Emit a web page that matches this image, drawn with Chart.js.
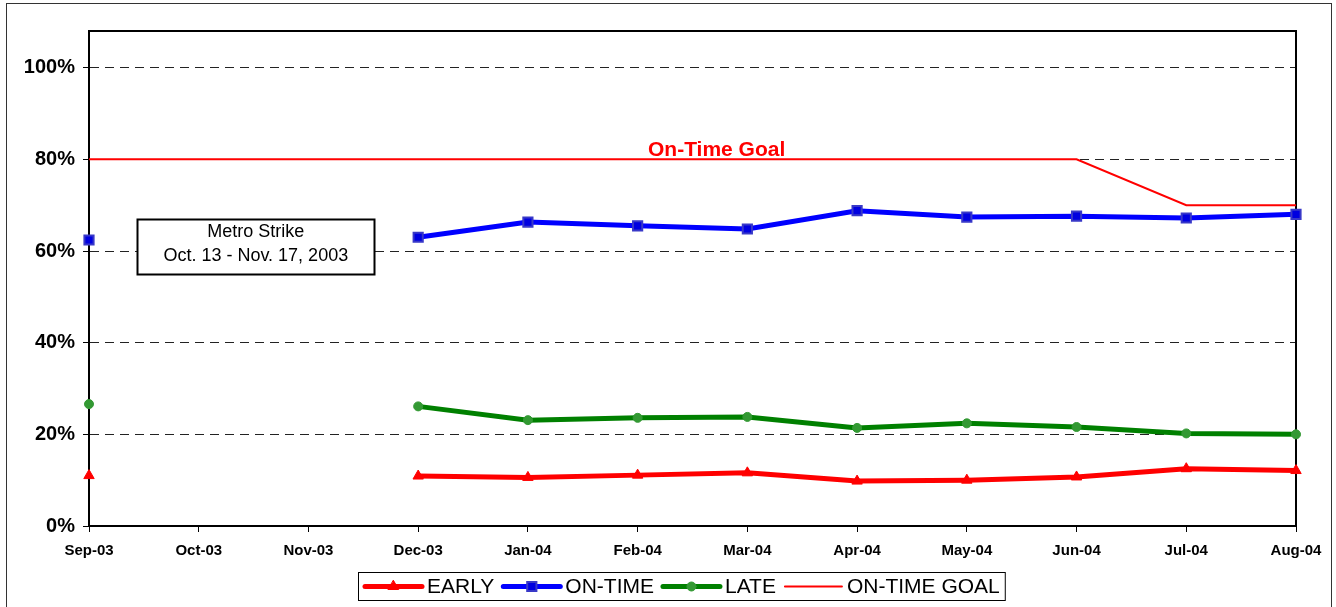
<!DOCTYPE html>
<html>
<head>
<meta charset="utf-8">
<script src="https://cdn.jsdelivr.net/npm/chart.js@4.4.0/dist/chart.umd.min.js"></script>
<style>
  html, body { margin: 0; padding: 0; background: #fff; }
  canvas { display: block; }
</style>
</head>
<body>
<canvas id="perf" width="1336" height="607"></canvas>
<script>
// monthly on-time performance (fractions), Oct/Nov 03 missing (strike)
const months = ['Sep-03', 'Oct-03', 'Nov-03', 'Dec-03', 'Jan-04', 'Feb-04', 'Mar-04',
                'Apr-04', 'May-04', 'Jun-04', 'Jul-04', 'Aug-04'];
const early   = [0.110, null, null, 0.109, 0.106, 0.111, 0.116, 0.098, 0.100, 0.107, 0.125, 0.121];
const onTime  = [0.624, null, null, 0.630, 0.663, 0.655, 0.648, 0.688, 0.674, 0.676, 0.672, 0.680];
const late    = [0.266, null, null, 0.261, 0.231, 0.236, 0.238, 0.214, 0.224, 0.216, 0.202, 0.200];
const onTimeGoal = [0.80, 0.80, 0.80, 0.80, 0.80, 0.80, 0.80, 0.80, 0.80, 0.80, 0.70, 0.70];
const yTicks = [0, 0.2, 0.4, 0.6, 0.8, 1.0];

const FONT = '"Liberation Sans", Arial, sans-serif';

// outer frame + plot area box (top/right edges)
const framePlugin = {
    id: 'frame',
    beforeDraw(chart) {
        const ctx = chart.ctx;
        ctx.save();
        ctx.fillStyle = '#fff';
        ctx.fillRect(0, 0, chart.width, chart.height);
        ctx.strokeStyle = '#333';
        ctx.lineWidth = 1;
        ctx.strokeRect(6.5, 3.5, 1325, 640);
        ctx.restore();
    },
    beforeDatasetsDraw(chart) {
        const { ctx, chartArea: a } = chart;
        ctx.save();
        ctx.strokeStyle = '#000';
        ctx.lineWidth = 2;
        ctx.beginPath();
        ctx.moveTo(a.left, a.top);
        ctx.lineTo(a.right, a.top);
        ctx.lineTo(a.right, a.bottom);
        ctx.stroke();
        ctx.restore();
    }
};

// strike note box and goal caption
const notesPlugin = {
    id: 'notes',
    afterDatasetsDraw(chart) {
        const { ctx, scales: { x, y } } = chart;
        ctx.save();
        // "On-Time Goal" caption sits just above the 80% goal line
        ctx.font = 'bold 21px ' + FONT;
        ctx.fillStyle = '#ff0000';
        ctx.textAlign = 'center';
        ctx.textBaseline = 'alphabetic';
        ctx.fillText('On-Time Goal', x.getPixelForValue(5.72), y.getPixelForValue(0.8) - 3);

        // Metro strike box
        const cx = x.getPixelForValue(1.52), cy = y.getPixelForValue(0.61);
        const w = 237, h = 55;
        ctx.fillStyle = '#fff';
        ctx.fillRect(cx - w / 2, cy - h / 2, w, h);
        ctx.strokeStyle = '#000';
        ctx.lineWidth = 2;
        ctx.strokeRect(Math.round(cx - w / 2) + 0.5, Math.round(cy - h / 2) + 0.5, w, h);
        ctx.fillStyle = '#000';
        ctx.font = '18px ' + FONT;
        ctx.textBaseline = 'middle';
        ctx.fillText('Metro Strike', cx, cy - 14);
        ctx.fillText('Oct. 13 - Nov. 17, 2003', cx, cy + 10);
        ctx.restore();
    }
};

// legend with line+marker samples, boxed under the axis
const legendPlugin = {
    id: 'lineLegend',
    afterDraw(chart) {
        const ctx = chart.ctx;
        const ds = chart.data.datasets;
        const top = 572, h = 28, left = 358;
        ctx.save();
        ctx.font = '21px ' + FONT;
        ctx.textBaseline = 'middle';
        ctx.textAlign = 'left';
        let xPos = left + 7;
        const cy = top + h / 2 + 0.5;
        const items = [];
        ds.forEach(d => {
            items.push({ d, x: xPos });
            xPos += 57 + 5 + ctx.measureText(d.label).width + 9;
        });
        const right = xPos - 4;
        ctx.strokeStyle = '#000';
        ctx.lineWidth = 1;
        ctx.strokeRect(left + 0.5, top + 0.5, right - left, h);
        items.forEach(({ d, x }) => {
            ctx.strokeStyle = d.borderColor;
            ctx.lineWidth = d.borderWidth;
            ctx.lineCap = 'round';
            ctx.beginPath();
            ctx.moveTo(x, cy);
            ctx.lineTo(x + 57, cy);
            ctx.stroke();
            if (d.pointRadius > 0) {
                ctx.fillStyle = d.pointBackgroundColor;
                ctx.strokeStyle = d.pointBorderColor;
                ctx.lineWidth = d.pointBorderWidth;
                Chart.helpers.drawPoint(ctx, {
                    pointStyle: d.pointStyle, radius: d.pointRadius,
                    borderWidth: d.pointBorderWidth, rotation: 0
                }, x + 28.5, cy);
            }
            ctx.fillStyle = '#000';
            ctx.fillText(d.label, x + 62, cy + 1);
        });
        ctx.restore();
    }
};

new Chart(document.getElementById('perf'), {
    type: 'line',
    data: {
        labels: months,
        datasets: [
            {
                label: 'EARLY', data: early,
                borderColor: '#ff0000', borderWidth: 5,
                pointStyle: 'triangle', pointRadius: 6,
                pointBackgroundColor: '#ff0000', pointBorderColor: '#ff0000', pointBorderWidth: 1,
                clip: false
            },
            {
                label: 'ON-TIME', data: onTime,
                borderColor: '#0000ff', borderWidth: 5,
                pointStyle: 'rect', pointRadius: 6.5,
                pointBackgroundColor: '#0000e0', pointBorderColor: '#3838c8', pointBorderWidth: 2,
                clip: false
            },
            {
                label: 'LATE', data: late,
                borderColor: '#008000', borderWidth: 5,
                pointStyle: 'circle', pointRadius: 4.5,
                pointBackgroundColor: '#339933', pointBorderColor: '#339933', pointBorderWidth: 1,
                clip: false
            },
            {
                label: 'ON-TIME GOAL', data: onTimeGoal,
                borderColor: '#ff0000', borderWidth: 2,
                pointRadius: 0, pointBackgroundColor: '#ff0000', pointBorderColor: '#ff0000',
                pointBorderWidth: 0
            }
        ]
    },
    options: {
        responsive: false,
        animation: false,
        spanGaps: false,
        layout: { padding: { left: 0, top: 31, right: 40, bottom: 0 } },
        elements: { line: { tension: 0 } },
        plugins: { legend: { display: false }, tooltip: { enabled: false } },
        scales: {
            x: {
                offset: false,
                grid: { drawOnChartArea: false, color: '#000', tickLength: 6, tickWidth: 1 },
                border: { display: true, color: '#000', width: 2 },
                ticks: {
                    color: '#000', padding: 10, maxRotation: 0, autoSkip: false,
                    font: { family: FONT, size: 15, weight: 'bold' }
                },
                afterFit(scale) { scale.height = 81; }
            },
            y: {
                min: 0, max: 1.08,
                afterBuildTicks(scale) {
                    scale.ticks = yTicks.map(v => ({ value: v }));
                },
                grid: { color: '#222', lineWidth: 1, tickLength: 6, tickColor: '#000' },
                border: { display: true, color: '#000', width: 2, dash: [9, 6] },
                ticks: {
                    color: '#000', padding: 8,
                    font: { family: FONT, size: 20, weight: 'bold' },
                    callback: v => Math.round(v * 100) + '%'
                },
                afterFit(scale) { scale.width = 89; }
            }
        }
    },
    plugins: [framePlugin, notesPlugin, legendPlugin]
});
</script>
</body>
</html>
